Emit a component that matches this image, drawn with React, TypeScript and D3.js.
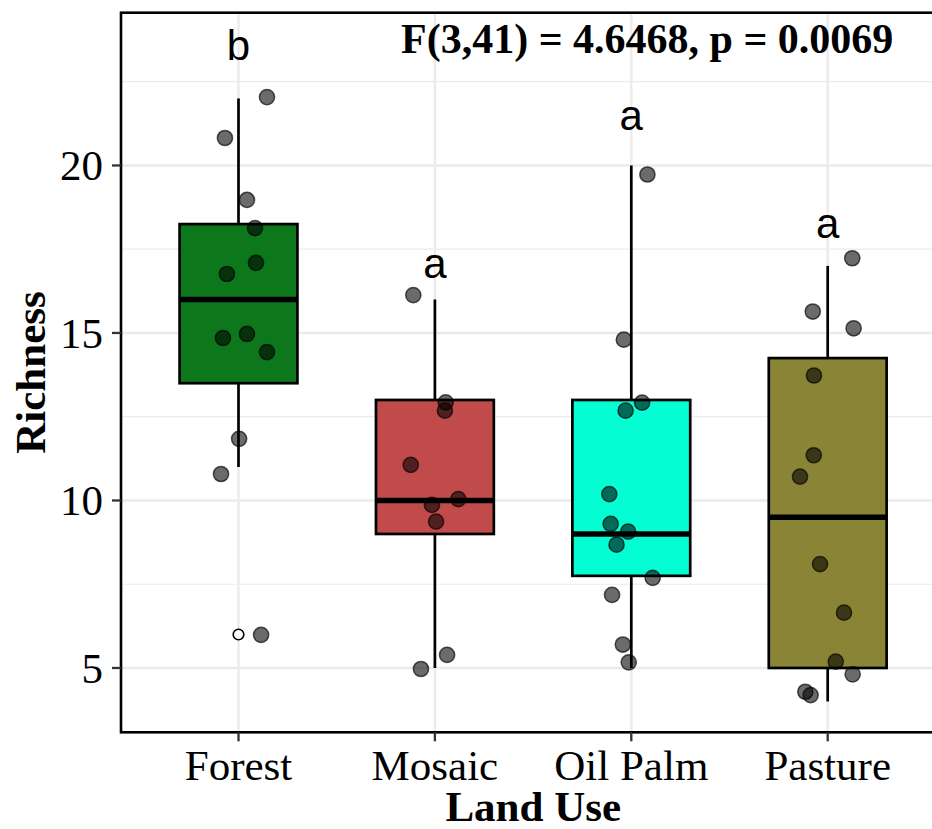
import React from "react";
import * as d3 from "d3";

const categories = ["Forest", "Mosaic", "Oil Palm", "Pasture"];
const fills = ["#0c781b", "#c14b4b", "#05fdd3", "#8a8436"];

// Richness values per land use (integers, used for the box statistics)
const forestRichness = [22, 21, 19, 18, 17, 17, 15, 15, 14, 12, 11, 6];
const mosaicRichness = [16, 13, 13, 11, 10, 10, 9, 5, 5];
const oilPalmRichness = [20, 15, 13, 13, 10, 9, 9, 9, 8, 7, 6, 5];
const pastureRichness = [17, 16, 15, 14, 11, 11, 8, 7, 5, 5, 4, 4];

// Jittered points as drawn (y value, horizontal offset in category units)
const forestShownY = [22.04, 20.82, 18.97, 18.13, 17.09, 16.76, 14.97, 14.85, 14.43, 11.84, 10.79, 5.99];
const forestJitterX = [0.145, -0.069, 0.043, 0.084, 0.089, -0.059, 0.043, -0.079, 0.145, 0.003, -0.089, 0.115];
const mosaicShownY = [16.13, 12.93, 12.68, 11.06, 10.04, 9.87, 9.37, 5.39, 4.97];
const mosaicJitterX = [-0.11, 0.055, 0.051, -0.123, 0.119, -0.015, 0.006, 0.062, -0.071];
const oilPalmShownY = [19.73, 14.8, 12.92, 12.68, 10.19, 9.3, 9.07, 8.68, 7.69, 7.18, 5.7, 5.17];
const oilPalmJitterX = [0.082, -0.038, 0.055, -0.029, -0.112, -0.105, -0.016, -0.075, 0.109, -0.098, -0.043, -0.013];
const pastureShownY = [17.23, 15.64, 15.14, 13.73, 11.35, 10.71, 8.1, 6.65, 5.19, 4.81, 4.29, 4.19];
const pastureJitterX = [0.125, -0.076, 0.132, -0.07, -0.071, -0.141, -0.039, 0.083, 0.041, 0.127, -0.114, -0.087];

// Compact letter display and its baseline position (in data units)
const groupLetters = ["b", "a", "a", "a"];
const letterY = [23.15, 16.64, 21.06, 17.84];

const yTicks = [5, 10, 15, 20];
const yMinorTicks = [7.5, 12.5, 17.5, 22.5];
const statText = "F(3,41) = 4.6468, p = 0.0069";
const xTitle = "Land Use";
const yTitle = "Richness";

const richness = [forestRichness, mosaicRichness, oilPalmRichness, pastureRichness];
const shownY = [forestShownY, mosaicShownY, oilPalmShownY, pastureShownY];
const jitterX = [forestJitterX, mosaicJitterX, oilPalmJitterX, pastureJitterX];

function boxStats(values: number[]) {
  const s = [...values].sort(d3.ascending);
  const q1 = d3.quantile(s, 0.25)!;
  const med = d3.quantile(s, 0.5)!;
  const q3 = d3.quantile(s, 0.75)!;
  const iqr = q3 - q1;
  const lo = q1 - 1.5 * iqr;
  const hi = q3 + 1.5 * iqr;
  const inside = s.filter((v) => v >= lo && v <= hi);
  const outliers = s.filter((v) => v < lo || v > hi);
  return { q1, med, q3, wLo: d3.min(inside)!, wHi: d3.max(inside)!, outliers };
}

export default function App() {
  const W = 932;
  const H = 829;
  const panelLeft = 121;
  const panelRight = 945.5;
  const panelTop = 12.7;
  const panelBottom = 732.3;

  const x = d3.scalePoint<string>().domain(categories).range([238.5, 827.7]);
  const step = x.step();
  const y = d3.scaleLinear().domain([3.08, 24.56]).range([panelBottom, panelTop]);
  const boxW = 0.6 * step;

  const serif = "'Liberation Serif', 'Times New Roman', serif";
  const sans = "'Liberation Sans', Arial, sans-serif";
  const lw = 2.7;

  return (
    <svg width={W} height={H} style={{ position: "absolute", left: 0, top: 0, background: "#fff" }}>
      <rect x={0} y={0} width={W} height={H} fill="#fff" />
      {/* grid */}
      {yMinorTicks.map((t) => (
        <line key={"mi" + t} x1={panelLeft} x2={panelRight} y1={y(t)} y2={y(t)} stroke="#ebebeb" strokeWidth={1.2} />
      ))}
      {yTicks.map((t) => (
        <line key={"ma" + t} x1={panelLeft} x2={panelRight} y1={y(t)} y2={y(t)} stroke="#ebebeb" strokeWidth={2.4} />
      ))}
      {categories.map((c) => (
        <line key={"vx" + c} x1={x(c)} x2={x(c)} y1={panelTop} y2={panelBottom} stroke="#ebebeb" strokeWidth={2.4} />
      ))}

      {/* boxplots */}
      {categories.map((c, i) => {
        const st = boxStats(richness[i]);
        const cx = x(c)!;
        return (
          <g key={"box" + c}>
            <line x1={cx} x2={cx} y1={y(st.wHi)} y2={y(st.q3)} stroke="#000" strokeWidth={lw} />
            <line x1={cx} x2={cx} y1={y(st.q1)} y2={y(st.wLo)} stroke="#000" strokeWidth={lw} />
            <rect
              x={cx - boxW / 2}
              y={y(st.q3)}
              width={boxW}
              height={y(st.q1) - y(st.q3)}
              fill={fills[i]}
              stroke="#000"
              strokeWidth={lw}
            />
            <line x1={cx - boxW / 2} x2={cx + boxW / 2} y1={y(st.med)} y2={y(st.med)} stroke="#000" strokeWidth={lw * 2} />
            {st.outliers.map((o, k) => (
              <circle key={k} cx={cx} cy={y(o)} r={5.3} fill="#fff" stroke="#000" strokeWidth={1.6} />
            ))}
          </g>
        );
      })}

      {/* jittered points */}
      {categories.map((c, i) => (
        <g key={"pts" + c}>
          {shownY[i].map((v, k) => (
            <circle
              key={k}
              cx={x(c)! + jitterX[i][k] * step}
              cy={y(v)}
              r={7.6}
              fill="#000"
              fillOpacity={0.58}
              stroke="#000"
              strokeOpacity={0.65}
              strokeWidth={1.5}
            />
          ))}
        </g>
      ))}

      {/* letters */}
      {categories.map((c, i) => (
        <text key={"let" + c} x={x(c)} y={y(letterY[i])} textAnchor="middle" fontFamily={sans} fontSize={42} fill="#000">
          {groupLetters[i]}
        </text>
      ))}

      <text x={401} y={52.7} fontFamily={serif} fontWeight="bold" fontSize={42} fill="#000">
        {statText}
      </text>

      {/* panel border */}
      <rect
        x={panelLeft}
        y={panelTop}
        width={panelRight - panelLeft}
        height={panelBottom - panelTop}
        fill="none"
        stroke="#000"
        strokeWidth={2.6}
      />

      {/* y axis */}
      {yTicks.map((t) => (
        <g key={"yt" + t}>
          <line x1={panelLeft - 9} x2={panelLeft} y1={y(t)} y2={y(t)} stroke="#333" strokeWidth={2.3} />
          <text x={103} y={y(t)} dy="0.34em" textAnchor="end" fontFamily={serif} fontSize={43} fill="#000">
            {t}
          </text>
        </g>
      ))}
      {/* x axis */}
      {categories.map((c) => (
        <g key={"xt" + c}>
          <line x1={x(c)} x2={x(c)} y1={panelBottom} y2={panelBottom + 9} stroke="#333" strokeWidth={2.3} />
          <text x={x(c)} y={780} textAnchor="middle" fontFamily={serif} fontSize={43} fill="#000">
            {c}
          </text>
        </g>
      ))}

      <text x={(panelLeft + panelRight) / 2} y={821} textAnchor="middle" fontFamily={serif} fontWeight="bold" fontSize={43} fill="#000">
        {xTitle}
      </text>
      <text
        transform={`translate(45, ${(panelTop + panelBottom) / 2}) rotate(-90)`}
        textAnchor="middle"
        fontFamily={serif}
        fontWeight="bold"
        fontSize={43}
        fill="#000"
      >
        {yTitle}
      </text>
    </svg>
  );
}
